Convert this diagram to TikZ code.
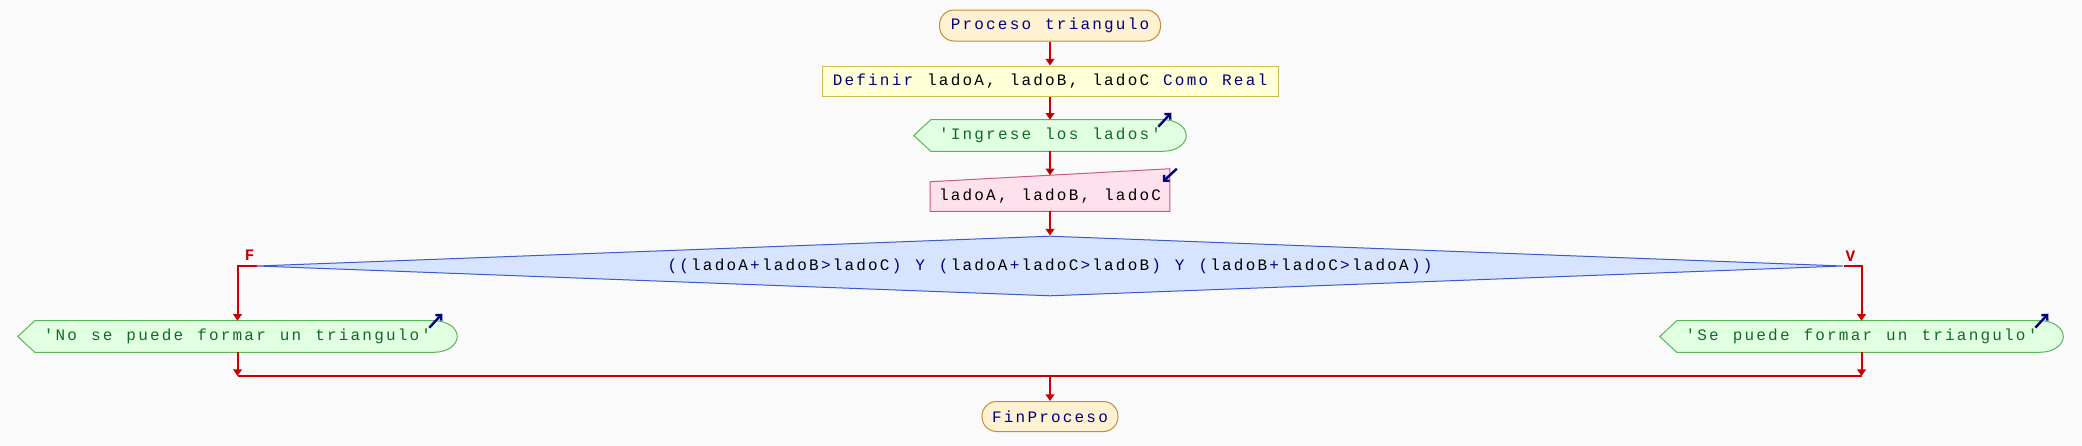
\documentclass[tikz,border=0pt]{standalone}
\usepackage{fontspec}
\usepackage{xcolor}
\usepackage{tikz}
\usetikzlibrary{calc,positioning,shapes.geometric,arrows.meta,backgrounds}
\newfontfamily\psmono{Liberation Mono}
\newcommand{\fuente}{\psmono\fontsize{12pt}{14pt}\selectfont}
\definecolor{fondo}{RGB}{250,250,250}
\definecolor{azul}{RGB}{0,0,128}
\definecolor{rojo}{RGB}{204,0,0}
\definecolor{verdetxt}{RGB}{20,105,40}
\definecolor{procfill}{RGB}{255,242,210}
\definecolor{procdraw}{RGB}{200,140,50}
\definecolor{decfill}{RGB}{255,255,215}
\definecolor{decdraw}{RGB}{200,190,80}
\definecolor{salfill}{RGB}{225,255,225}
\definecolor{saldraw}{RGB}{90,180,90}
\definecolor{leefill}{RGB}{255,225,238}
\definecolor{leedraw}{RGB}{200,90,130}
\definecolor{condfill}{RGB}{215,228,255}
\definecolor{conddraw}{RGB}{60,90,200}
% texto de paso fijo, como en el diagrama
\ExplSyntaxOn
\dim_new:N \l_ps_adv_dim
\dim_set:Nn \l_ps_adv_dim {8.85pt}
\cs_new_protected:Npn \__ps_char:n #1 { \makebox[\l_ps_adv_dim][c]{#1} }
\NewDocumentCommand \ps { m } { \str_map_function:nN {#1} \__ps_char:n }
\ExplSyntaxOff
\newcommand{\kw}[1]{\textcolor{azul}{\ps{#1}}}
\tikzset{
  proc/.style={rectangle, rounded corners=11pt, draw=procdraw, fill=procfill, line width=0.75pt, minimum width=165.75pt, minimum height=23.25pt, inner sep=0pt, text=azul, font=\fuente},
  decl/.style={rectangle, draw=decdraw, fill=decfill, line width=0.75pt, minimum width=342pt, minimum height=22.5pt, inner sep=0pt, font=\fuente},
  sal/.style={rectangle, inner sep=0pt, minimum height=23.25pt, text=verdetxt, font=\fuente},
  salborde/.style={draw=saldraw, fill=salfill, line width=0.75pt},
  lee/.style={rectangle, inner sep=0pt, minimum width=179.25pt, minimum height=21.75pt, font=\fuente},
  leeborde/.style={draw=leedraw, fill=leefill, line width=0.75pt},
  cond/.style={diamond, draw=conddraw, fill=condfill, line width=0.75pt, aspect=26, inner sep=0pt, minimum width=1189.5pt, minimum height=45pt, font=\fuente},
  flujo/.style={draw=rojo, line width=1.5pt, -{Triangle[width=6.5pt,length=5pt]}},
  linea/.style={draw=rojo, line width=1.5pt},
  icono/.style={draw=azul, line width=1.8pt, -{Straight Barb[length=3pt,width=6pt]}},
  etiq/.style={text=rojo, inner sep=0pt, font=\psmono\bfseries\fontsize{12pt}{14pt}\selectfont},
}
% forma de salida: punta a la izquierda, curva a la derecha
\newcommand{\salida}[1]{%
  \path[salborde] (#1.west) -- ($(#1.north west)+(17,0)$) -- ($(#1.north east)+(-23,0)$)
    .. controls +(13,0) and +(0,-8.5) .. (#1.east)
    .. controls +(0,8.5) and +(13,0) .. ($(#1.south east)+(-23,0)$)
    -- ($(#1.south west)+(17,0)$) -- cycle;}
\begin{document}
\begin{tikzpicture}[x=0.75pt, y=-0.75pt]
  \node[proc] (ini) at (1050,25.5) {\ps{Proceso triangulo}};
  \node[decl] (dec) at (1050,81) {\kw{Definir}\ps{ ladoA, ladoB, ladoC }\kw{Como Real}};
  \node[sal, minimum width=204pt] (msg) at (1050,135.5) {\ps{'Ingrese los lados'}};
  \node[lee] (lee) at (1050,196.5) {\ps{ladoA, ladoB, ladoC}};
  \node[cond] (si) at (1050,266) {\kw{((}\ps{ladoA}\kw{+}\ps{ladoB}\kw{>}\ps{ladoC}\kw{) Y (}\ps{ladoA}\kw{+}\ps{ladoC}\kw{>}\ps{ladoB}\kw{) Y (}\ps{ladoB}\kw{+}\ps{ladoC}\kw{>}\ps{ladoA}\kw{))}};
  \node[sal, minimum width=329.25pt] (no) at (237.5,336.5) {\ps{'No se puede formar un triangulo'}};
  \node[sal, minimum width=302.25pt] (yes) at (1861.5,336.5) {\ps{'Se puede formar un triangulo'}};
  \node[proc, minimum width=102pt, minimum height=22.5pt] (fin) at (1050,416.5) {\ps{FinProceso}};

  \coordinate (leetop) at ($(lee.north)+(0,-6.5)$);
  \coordinate (une) at (1050,376);
  \coordinate (esqF) at (si.west -| no.north);
  \coordinate (esqV) at (si.east -| yes.north);
  \node[etiq, above right=3.75pt and 5.25pt of esqF] (lf) {F};
  \node[etiq, above left=3pt and 4.5pt of esqV] (lv) {V};

  \path[flujo]
    (ini) edge (dec)
    (dec) edge (msg)
    (msg) edge (leetop)
    (lee) edge (si);
  \draw[flujo] (si.west) -| (no.north);
  \draw[flujo] (si.east) -| (yes.north);
  \draw[flujo] (no.south) -- (no.south |- une);
  \draw[flujo] (yes.south) -- (yes.south |- une);
  \draw[linea] (no.south |- une) -- (yes.south |- une);
  \draw[flujo] (une) -- (fin.north);

  % iconos de entrada/salida
  \draw[icono] ($(msg.north east)+(-28,7)$) -- ($(msg.north east)+(-15,-7)$);
  \draw[icono] ($(no.north east)+(-28,7)$) -- ($(no.north east)+(-15,-7)$);
  \draw[icono] ($(yes.north east)+(-28,7)$) -- ($(yes.north east)+(-15,-7)$);
  \draw[icono] ($(lee.north east)+(7,-13)$) -- ($(lee.north east)+(-7,0)$);

  \begin{scope}[on background layer]
    \fill[fondo] (0,0) rectangle (2082,446);
    \salida{msg}
    \salida{no}
    \salida{yes}
    \path[leeborde] (lee.south west) -- (lee.north west) -- ($(lee.north east)+(0,-13)$) -- (lee.south east) -- cycle;
  \end{scope}
  \useasboundingbox (0,0) rectangle (2082,446);
\end{tikzpicture}
\end{document}
